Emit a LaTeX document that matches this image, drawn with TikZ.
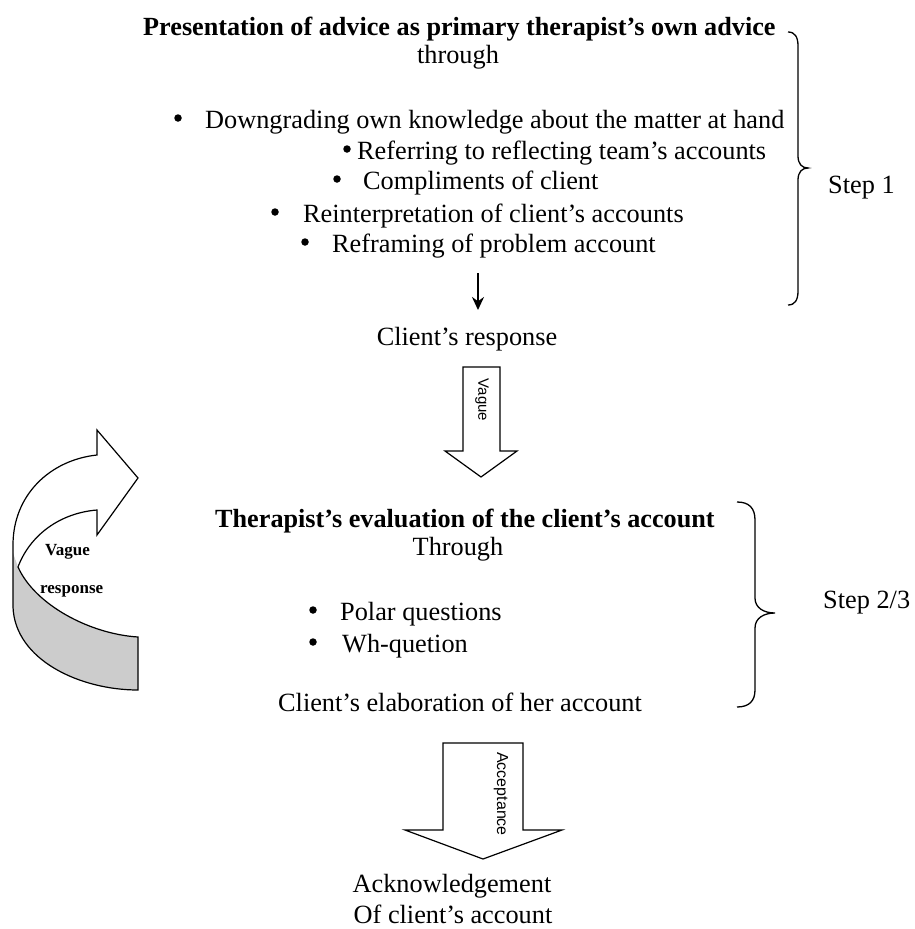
\documentclass[tikz,border=0pt]{standalone}
\usepackage{fontspec}
\setmainfont{Liberation Serif}
\newfontfamily\arialfont{Liberation Sans}
\usetikzlibrary{arrows.meta}
\begin{document}
\begin{tikzpicture}[x=1pt,y=-1pt,
  txt/.style={inner sep=0pt, anchor=base west, font=\fontsize{26.3}{30}\selectfont},
  ttl/.style={inner sep=0pt, anchor=base west, font=\fontsize{26.2}{30}\selectfont\bfseries},
  ctr/.style={inner sep=0pt, anchor=base, font=\fontsize{26.3}{30}\selectfont},
  bul/.style={circle, fill=black, inner sep=0pt, minimum size=7.5pt},
  small/.style={inner sep=0pt, anchor=base west, font=\fontsize{17}{20}\selectfont\bfseries},
  vlab/.style={inner sep=0pt, rotate=-90, font=\arialfont\fontsize{15}{18}\selectfont},
  blockarrow/.style={draw=black, line width=1.2pt, fill=white, line join=miter},
  bracestyle/.style={draw=black, line width=1.3pt},
]
\useasboundingbox (0,0) rectangle (915,929);

% ---- Step 1 block
\node[ttl] (title1) at (143,35) {Presentation of advice as primary therapist’s own advice};
\node[ctr] (through1) at (458,63) {through};
\node[bul] (b1) at (178,118) {};
\node[txt] (t1) at (205,128) {Downgrading own knowledge about the matter at hand};
\node[bul] (b2) at (347,149) {};
\node[txt] (t2) at (357,159) {Referring to reflecting team’s accounts};
\node[bul] (b3) at (337,179) {};
\node[txt] (t3) at (363,189) {Compliments of client};
\node[bul] (b4) at (275,212) {};
\node[txt] (t4) at (303,222) {Reinterpretation of client’s accounts};
\node[bul] (b5) at (305,242) {};
\node[txt] (t5) at (332,252) {Reframing of problem account};

\coordinate (sa1) at (478,273);
\coordinate (sa2) at (478,310);
\draw[line width=2pt, -{Stealth[length=13pt,width=12pt]}] (sa1) -- (sa2);

\node[ctr] (resp) at (467,345) {Client’s response};

% brace 1
\draw[bracestyle] (788,32) .. controls (795,32) and (798,37) .. (798,46)
  -- (798,156) .. controls (798,164) and (802,168) .. (808,168)
  .. controls (802,168) and (798,172) .. (798,180)
  -- (798,291) .. controls (798,300) and (795,305) .. (788,305);
\node[txt] (step1) at (828,193) {Step 1};

% Vague block arrow
\draw[blockarrow] (463,367) -- (500,367) -- (500,451) -- (517,451) -- (481,477)
  -- (445,451) -- (463,451) -- cycle;
\node[vlab] (vague) at (482,400) {Vague};

% ---- Step 2/3 block
\node[ttl] (title2) at (215,527) {Therapist’s evaluation of the client’s account};
\node[ctr] (through2) at (458,555) {Through};
\node[bul] (b6) at (313,610) {};
\node[txt] (t6) at (340,620) {Polar questions};
\node[bul] (b7) at (313,642) {};
\node[txt] (t7) at (342,652) {Wh-quetion};
\node[ctr] (elab) at (460,711) {Client’s elaboration of her account};

% brace 2
\draw[bracestyle] (737,502) .. controls (749,502) and (755,508) .. (755,520)
  -- (755,598) .. controls (755,608) and (764,613) .. (775,613)
  .. controls (764,613) and (755,618) .. (755,628)
  -- (755,690) .. controls (755,701) and (749,707) .. (737,707);
\node[txt] (step2) at (823,608) {Step 2/3};

% curved arrow (vague response)
\fill[gray!40] (13,553) -- (13,607) .. controls (15,660) and (80,690) .. (138,690)
  -- (138,637) .. controls (90,634) and (35,605) .. (18,567) -- cycle;
\draw[line width=1.2pt, line join=miter]
  (97,455) .. controls (50,460) and (13,495) .. (13,545)
  -- (13,607) .. controls (15,660) and (80,690) .. (138,690)
  -- (138,637) .. controls (90,634) and (35,605) .. (18,567)
  .. controls (30,535) and (60,513) .. (97,510)
  -- (97,535) -- (138,478) -- (97,430) -- cycle;
\node[small] (vr1) at (45,555) {Vague};
\node[small] (vr2) at (40,593) {response};

% Acceptance block arrow
\draw[blockarrow] (443,743) -- (523,743) -- (523,830) -- (562,830) -- (483,859)
  -- (405,830) -- (443,830) -- cycle;
\node[vlab, font=\arialfont\fontsize{16}{18}\selectfont] (accept) at (501,794) {Acceptance};

\node[ctr] (ack1) at (452,892) {Acknowledgement};
\node[ctr] (ack2) at (453,923) {Of client’s account};
\end{tikzpicture}
\end{document}
